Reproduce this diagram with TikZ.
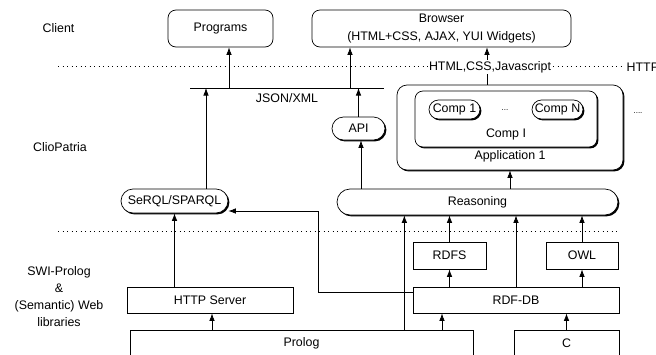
\documentclass[tikz,border=0pt]{standalone}
\usepackage{fontspec}
\setmainfont{Liberation Sans}
\usetikzlibrary{arrows.meta,shadows}

\tikzset{
  box/.style={draw, fill=white, inner sep=0pt, line width=0.7pt},
  shbox/.style={box, drop shadow={shadow xshift=1.4pt, shadow yshift=-1.4pt, opacity=1, fill=black}},
  arr/.style={-{Latex[length=7.5pt,width=5.5pt]}, line width=0.75pt},
  layer/.style={line width=0.9pt, dash pattern=on 0.9pt off 3.6pt},
  dotsfont/.style={font=\fontsize{8}{9}\selectfont}
}

\begin{document}
\begin{tikzpicture}[x=1pt, y=-1pt, font=\fontsize{12.4}{17}\selectfont]
  \useasboundingbox (0,0) rectangle (656,354);
  \clip (0,0) rectangle (656,354);

  % Layers
  \draw[layer] (58,66) -- (622,66);
  \draw[layer] (58,231) -- (620,231);
  \node (client) at (58.5,28) {Client};
  \node (clio) at (60,147) {ClioPatria};
  \node[align=center] (swi) at (59,297) {SWI-Prolog\\\&\\(Semantic) Web\\libraries};

  % Client
  \node[box, rounded corners=8pt, minimum width=105pt, minimum height=37pt] (programs) at (220.5,28.5) {Programs};
  \node[box, rounded corners=8pt, minimum width=259pt, minimum height=37pt, align=center] (browser) at (441.5,28.5) {Browser\\[1pt](HTML+CSS, AJAX, YUI Widgets)};

  % ClioPatria
  \coordinate (barL) at (190,88);
  \coordinate (barR) at (384,88);
  \draw[line width=0.9pt] (barL) -- (barR) node[midway, below=2pt] (json) {JSON/XML};
  \node[shbox, rounded corners=11.5pt, minimum width=53pt, minimum height=23pt] (api) at (358.5,128.5) {API};
  \node[shbox, rounded corners=10pt, minimum width=226pt, minimum height=85pt] (app) at (510,127.5) {};
  \node[anchor=base] (applabel) at ([yshift=10.5pt]app.south) {Application 1};
  \node[shbox, rounded corners=8pt, minimum width=182pt, minimum height=56pt] (compi) at (506,119) {};
  \node[anchor=base] (compilabel) at ([yshift=9.5pt]compi.south) {Comp I};
  \node[shbox, rounded corners=9.5pt, minimum width=51pt, minimum height=19pt] (comp1) at (454.5,109.5) {Comp 1};
  \node[shbox, rounded corners=9.5pt, minimum width=51pt, minimum height=19pt] (compn) at (557.5,109.5) {Comp N};
  \node[dotsfont] (compdots) at (505,110) {...};
  \node[dotsfont] (appdots) at (638,113) {....};
  \node[shbox, rounded corners=13pt, minimum width=281pt, minimum height=26pt] (reasoning) at (477.5,202) {Reasoning};
  \node[shbox, rounded corners=12pt, minimum width=107pt, minimum height=24pt] (serql) at (174.5,201) {SeRQL/SPARQL};

  % SWI-Prolog
  \node[box, minimum width=73pt, minimum height=27pt] (rdfs) at (449.5,255.5) {RDFS};
  \node[box, minimum width=72pt, minimum height=27pt] (owl) at (582,255.5) {OWL};
  \node[box, minimum width=206pt, minimum height=26pt] (rdfdb) at (516,300) {RDF-DB};
  \node[box, minimum width=166pt, minimum height=26pt] (http) at (210,300) {HTTP Server};
  \node[box, minimum width=343pt, minimum height=40pt, anchor=north] (prolog) at (301.5,330) {};
  \node (prologlabel) at ([yshift=-13pt]prolog.north) {Prolog};
  \node[box, minimum width=105pt, minimum height=40pt, anchor=north] (c) at (566.5,330) {};
  \node (clabel) at ([yshift=-13pt]c.north) {C};

  % Arrows
  \draw[arr] ([xshift=8.5pt]programs.south |- barL) -- ([xshift=8.5pt]programs.south);
  \draw[arr] ([xshift=-91.5pt]browser.south |- barL) -- ([xshift=-91.5pt]browser.south);
  \draw[arr] ([xshift=31.5pt]serql.north) -- ([xshift=31.5pt]serql.north |- barL);
  \draw[arr] (api.north) -- (api.north |- barL);
  \draw[arr] ([xshift=2.5pt]api.south |- reasoning.north) -- ([xshift=2.5pt]api.south);
  \draw[arr] (app.south |- reasoning.north) -- (app.south);
  \draw[arr] ([xshift=-23pt]app.north) -- ([xshift=-23pt]app.north |- browser.south);
  \draw[arr] (serql.south |- http.north) -- (serql.south);
  \draw[arr] ([xshift=2pt]http.south |- prolog.north) -- ([xshift=2pt]http.south);
  \draw[arr] ([yshift=8pt]rdfdb.west) -- ++(-94,0) |- ([yshift=-10pt]serql.east);
  \draw[arr] ([xshift=-74pt]rdfdb.south |- prolog.north) -- ([xshift=-74pt]rdfdb.south);
  \draw[arr] (c.north) -- (c.north |- rdfdb.south);
  \draw[arr] (rdfdb.north) -- (rdfdb.north |- reasoning.south);
  \draw[arr] ([xshift=-69pt]prolog.north east) -- ([xshift=-69pt]prolog.north east |- reasoning.south);
  \foreach \n in {rdfs,owl} {
    \draw[arr] (\n.south |- rdfdb.north) -- (\n.south);
    \draw[arr] (\n.north) -- (\n.north |- reasoning.south);
  }

  % Protocols
  \node[fill=white, inner sep=1.5pt] (mime) at (490,67) {HTML,CSS,Javascript};
  \node[fill=white, inner sep=1.5pt, anchor=west] (proto) at (625,67) {HTTP};
\end{tikzpicture}
\end{document}
